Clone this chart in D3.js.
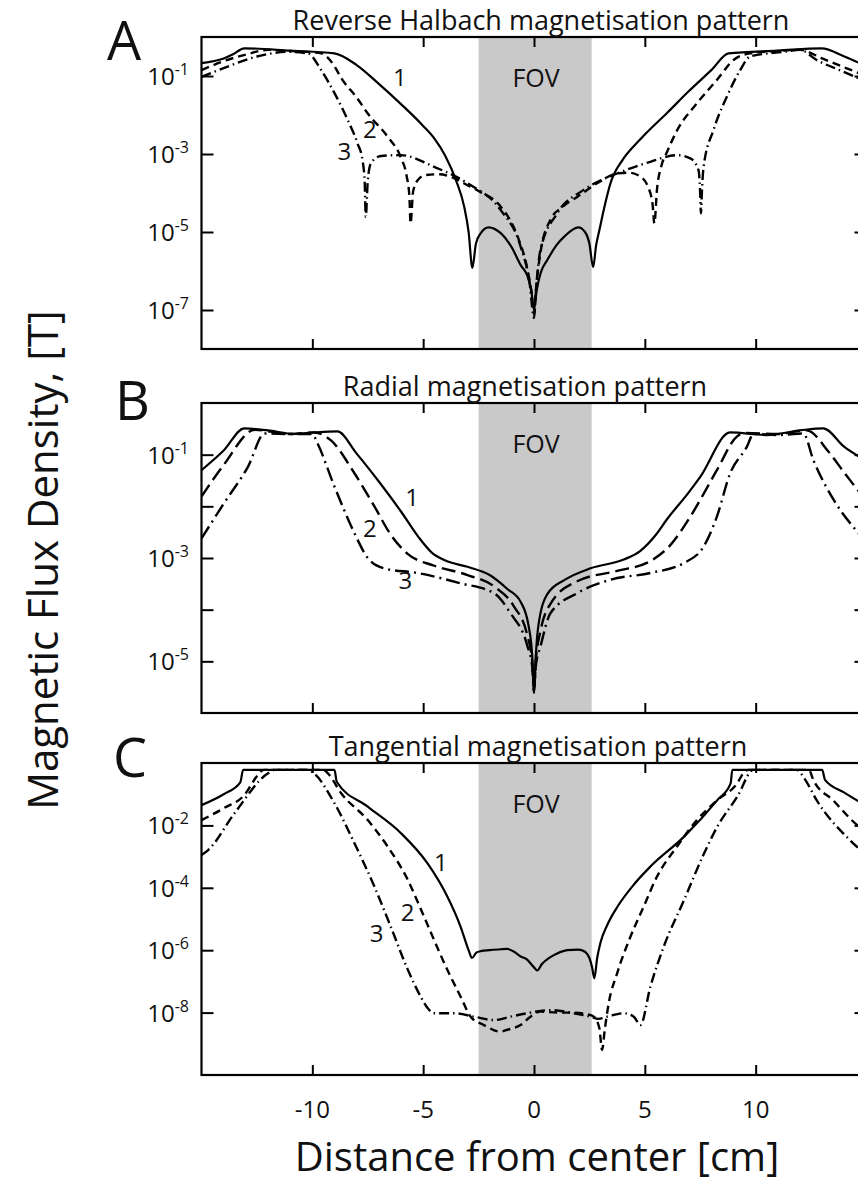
<!DOCTYPE html>
<html>
<head>
<meta charset="utf-8">
<script src="https://cdn.jsdelivr.net/npm/d3@7"></script>
<style>
  body { margin: 0; background: #fff; }
  svg { display: block; }
  text { font-family: "Open Sans", "Noto Sans", sans-serif; fill: #111; }
</style>
</head>
<body>
<script>
// ---- shared axis data ----
const xDomain = [-15, 15];
const xTicks = [-10, -5, 0, 5, 10];
const fovRange = [-2.5, 2.6];
const panelLetters = ["A", "B", "C"];
const panelTitles = [
  "Reverse Halbach magnetisation pattern",
  "Radial magnetisation pattern",
  "Tangential magnetisation pattern"
];
const yDomains = [[1e-8, 1], [1e-6, 1], [1e-10, 1]];
const yTickValues = [
  [1e-1, 1e-3, 1e-5, 1e-7],
  [1e-1, 1e-2, 1e-3, 1e-4, 1e-5],
  [1e-2, 1e-4, 1e-6, 1e-8]
];
const yTickLabels = [
  [-1, -3, -5, -7],
  [-1, -3, -5],
  [-2, -4, -6, -8]
];
const curveNames = ["1", "2", "3"];

// ---- series: [distance cm, log10(B / T)] ----
// A: reverse Halbach
const a1 = [[-15,-0.67],[-14,-0.55],[-13.6,-0.45],[-13.07,-0.29],[-11,-0.35],[-9.0,-0.42],[-8.0,-0.72],[-7.0,-1.2],[-6.0,-1.72],[-5.0,-2.28],[-4.5,-2.6],[-4.0,-3.05],[-3.5,-3.7],[-3.15,-4.35],[-2.95,-5.0],[-2.78,-5.92],[-2.62,-5.3],[-2.4,-5.03],[-2.05,-4.88],[-1.5,-5.03],[-1.0,-5.4],[-0.6,-5.85],[-0.3,-6.12],[-0.12,-6.5],[0,-7.0],[0.12,-6.5],[0.3,-6.05],[0.6,-5.72],[1.0,-5.35],[1.4,-5.1],[2.0,-4.88],[2.3,-5.0],[2.5,-5.3],[2.67,-5.9],[2.8,-5.35],[2.95,-4.95],[3.2,-4.3],[3.45,-3.75],[4.0,-3.15],[4.5,-2.8],[5.0,-2.5],[6.0,-1.95],[7.0,-1.38],[8.0,-0.85],[8.78,-0.42],[11,-0.35],[12.98,-0.29],[14,-0.5],[15,-0.75]];
const a2 = [[-15,-0.85],[-14,-0.62],[-13,-0.45],[-12,-0.33],[-11,-0.36],[-9.6,-0.42],[-9.0,-0.75],[-8.7,-1.05],[-8.0,-1.55],[-7.5,-1.96],[-6.6,-2.56],[-6.0,-3.1],[-5.75,-3.55],[-5.62,-4.1],[-5.57,-4.78],[-5.45,-3.95],[-5.2,-3.64],[-4.9,-3.54],[-4.3,-3.52],[-3.76,-3.58],[-3.0,-3.8],[-2.5,-3.95],[-1.5,-4.35],[-0.75,-5.1],[-0.3,-5.95],[-0.1,-6.6],[0,-7.1],[0.1,-6.4],[0.3,-5.5],[0.74,-4.69],[1.3,-4.35],[1.95,-4.1],[2.85,-3.75],[3.75,-3.5],[4.3,-3.48],[4.8,-3.58],[5.15,-3.85],[5.35,-4.3],[5.43,-4.78],[5.55,-3.9],[5.75,-3.3],[6.0,-2.95],[6.45,-2.4],[7.35,-1.7],[8.25,-1.1],[9.0,-0.59],[9.75,-0.42],[11,-0.36],[12,-0.33],[13,-0.55],[14,-0.78],[15,-1.0]];
const a3 = [[-15,-1.02],[-14,-0.8],[-12.5,-0.5],[-11.1,-0.38],[-10.2,-0.42],[-9.6,-0.85],[-9.0,-1.44],[-8.4,-2.13],[-7.96,-2.73],[-7.74,-3.15],[-7.64,-3.7],[-7.59,-4.61],[-7.5,-3.7],[-7.36,-3.24],[-6.9,-3.05],[-6.0,-3.03],[-4.5,-3.33],[-3.0,-3.75],[-1.5,-4.44],[-0.6,-5.38],[-0.2,-6.3],[0,-7.2],[0.1,-6.4],[0.29,-5.46],[1.05,-4.52],[2.24,-3.92],[3.75,-3.5],[5.25,-3.2],[6.45,-3.03],[7.05,-3.11],[7.42,-3.41],[7.49,-3.9],[7.53,-4.52],[7.58,-3.9],[7.65,-3.33],[8.1,-2.38],[8.7,-1.53],[9.3,-0.85],[9.75,-0.5],[11.25,-0.38],[12,-0.33],[12.75,-0.59],[14,-0.9],[15,-1.15]];

// B: radial
const b1 = [[-15,-1.3],[-14,-0.92],[-13.07,-0.49],[-12,-0.53],[-10.8,-0.6],[-9.9,-0.57],[-8.87,-0.55],[-8,-0.98],[-7,-1.52],[-6,-2.1],[-5.2,-2.6],[-4.6,-2.9],[-4.0,-3.05],[-3.0,-3.17],[-2.0,-3.33],[-1.2,-3.6],[-0.6,-3.85],[-0.25,-4.3],[-0.08,-4.9],[0,-5.6],[0.08,-4.9],[0.2,-4.3],[0.6,-3.7],[1.4,-3.42],[2.55,-3.2],[4.05,-3.03],[4.8,-2.86],[5.5,-2.55],[6.0,-2.25],[7.0,-1.72],[7.5,-1.43],[8.85,-0.57],[10.5,-0.62],[12,-0.53],[13.05,-0.49],[14,-0.85],[15,-1.12]];
const b2 = [[-15,-1.81],[-14,-1.2],[-12.6,-0.52],[-11,-0.6],[-9.9,-0.57],[-9.17,-0.72],[-8.1,-1.36],[-7.2,-2.0],[-6.46,-2.55],[-5.7,-2.92],[-4.5,-3.15],[-3.0,-3.33],[-1.8,-3.55],[-0.9,-3.94],[-0.3,-4.5],[-0.08,-5.0],[0,-5.6],[0.08,-5.0],[0.3,-4.4],[0.8,-3.85],[1.95,-3.45],[3.75,-3.25],[5.25,-3.06],[6.15,-2.75],[7.05,-2.2],[8.25,-1.3],[9.15,-0.65],[9.5,-0.58],[11,-0.6],[12.3,-0.53],[13.3,-0.95],[14,-1.35],[15,-1.9]];
const b3 = [[-15,-2.62],[-14,-1.95],[-12.9,-1.23],[-12.15,-0.59],[-11,-0.6],[-10.0,-0.6],[-9.77,-0.78],[-9.0,-1.62],[-8.1,-2.52],[-7.5,-3.0],[-6.77,-3.2],[-5.26,-3.29],[-3.31,-3.49],[-1.8,-3.68],[-1.06,-4.07],[-0.3,-4.7],[-0.08,-5.1],[0,-5.6],[0.08,-5.1],[0.3,-4.7],[0.74,-4.07],[1.95,-3.68],[3.45,-3.42],[5.25,-3.29],[6.75,-3.1],[7.65,-2.78],[8.25,-2.2],[8.85,-1.36],[9.6,-0.85],[9.9,-0.6],[11,-0.62],[12.15,-0.59],[12.6,-1.1],[13.66,-1.97],[14.6,-2.5],[15,-2.7]];

// C: tangential
const c1 = [[-15,-1.35],[-14,-1.0],[-13.25,-0.62],[-13.12,-0.22],[-9.0,-0.22],[-8.9,-0.6],[-7.5,-1.4],[-6.0,-2.25],[-4.81,-3.21],[-3.91,-4.28],[-3.31,-5.25],[-2.95,-6.0],[-2.8,-6.25],[-2.6,-6.08],[-2.4,-6.03],[-2.0,-6.0],[-1.5,-5.97],[-1.2,-5.96],[-0.9,-6.05],[-0.6,-6.2],[-0.35,-6.28],[0,-6.55],[0.15,-6.65],[0.35,-6.45],[0.74,-6.22],[1.0,-6.12],[1.5,-6.0],[2.0,-5.98],[2.3,-6.05],[2.5,-6.25],[2.62,-6.55],[2.72,-6.9],[2.85,-6.25],[3.0,-5.75],[3.3,-5.2],[3.77,-4.6],[4.5,-3.9],[5.25,-3.32],[6.77,-2.36],[8.27,-1.19],[8.87,-0.65],[8.95,-0.22],[13.0,-0.22],[13.13,-0.54],[14,-0.95],[15,-1.38]];
const c2 = [[-15,-1.83],[-14,-1.45],[-13.07,-1.03],[-12.45,-0.38],[-12.2,-0.22],[-9.5,-0.22],[-9.3,-0.33],[-8.7,-0.97],[-7.5,-1.83],[-6.6,-2.68],[-5.69,-3.75],[-5.09,-4.71],[-4.51,-5.67],[-3.91,-6.63],[-3.31,-7.49],[-2.86,-8.13],[-2.26,-8.4],[-1.51,-8.61],[-1.2,-8.55],[-0.61,-8.4],[-0.16,-8.13],[0.29,-7.97],[1.05,-8.0],[1.8,-8.0],[2.4,-8.05],[2.7,-8.13],[2.95,-8.5],[3.07,-9.2],[3.2,-8.5],[3.37,-7.7],[3.75,-6.74],[4.35,-5.57],[4.95,-4.6],[5.55,-3.64],[6.45,-2.68],[7.35,-1.83],[8.27,-1.19],[9.17,-0.65],[9.47,-0.3],[9.7,-0.22],[12.4,-0.22],[12.6,-0.54],[13.5,-1.2],[14.6,-2.0],[15,-2.2]];
const c3 = [[-15,-2.95],[-14.7,-2.79],[-13.5,-1.6],[-12.0,-0.33],[-11.7,-0.22],[-10.2,-0.22],[-9.9,-0.35],[-9.0,-1.29],[-8.1,-2.57],[-7.2,-3.96],[-6.46,-5.25],[-5.69,-6.63],[-5.11,-7.49],[-4.8,-7.85],[-4.51,-8.02],[-3.6,-8.02],[-2.7,-8.13],[-1.8,-8.24],[-1.06,-8.13],[-0.31,-8.02],[0.74,-7.92],[1.8,-8.02],[2.55,-8.13],[2.9,-8.2],[3.3,-8.13],[4.05,-8.02],[4.5,-8.13],[4.8,-8.4],[5.25,-7.17],[5.85,-5.89],[6.77,-4.39],[7.67,-2.9],[8.27,-2.04],[9.17,-1.08],[9.9,-0.22],[11.85,-0.22],[12.2,-0.5],[12.75,-1.19],[14.25,-2.47],[15,-2.95]];

const panelSeries = [[a1, a2, a3], [b1, b2, b3], [c1, c2, c3]];

// curve-number label anchors [distance, log10 value] per panel
const numberAnchors = [
  [[-6.05, -1.25], [-7.4, -2.6], [-8.55, -3.15]],
  [[-5.5, -2.0], [-7.4, -2.6], [-5.8, -3.6]],
  [[-4.2, -3.45], [-5.7, -5.05], [-7.1, -5.75]]
];

// ---- layout ----
const W = 858, H = 1184;
const plotLeft = 201.5, plotRight = 866.5;
const panelBox = [[37, 349], [403, 713], [763, 1075]];
const letterPos = [[107, 60], [115, 420], [113, 777]];
const titleX = [541, 525, 538];
const dashStyles = [
  ["none", "8,5", "10,4,1.5,4"],
  ["none", "14,6", "14,5,2,5"],
  ["none", "8,5", "10,4,1.5,4"]
];

const svg = d3.select("body").append("svg")
  .attr("width", W).attr("height", H);

const x = d3.scaleLinear().domain(xDomain).range([plotLeft, plotRight]);

panelSeries.forEach((series, i) => {
  const [top, bottom] = panelBox[i];
  const y = d3.scaleLog().domain(yDomains[i]).range([bottom, top]);
  const g = svg.append("g");

  const clipId = "clip" + i;
  svg.append("clipPath").attr("id", clipId)
    .append("rect")
    .attr("x", plotLeft).attr("y", top)
    .attr("width", plotRight - plotLeft).attr("height", bottom - top);

  // field-of-view band
  g.append("rect")
    .attr("x", x(fovRange[0])).attr("y", top)
    .attr("width", x(fovRange[1]) - x(fovRange[0]))
    .attr("height", bottom - top)
    .attr("fill", "#c9c9c9");

  g.append("text")
    .attr("x", (x(fovRange[0]) + x(fovRange[1])) / 2 + 1)
    .attr("y", top + 50)
    .attr("text-anchor", "middle")
    .attr("font-size", 25)
    .text("FOV");

  // curves
  const line = d3.line()
    .x(d => x(d[0]))
    .y(d => y(Math.pow(10, d[1])))
    .curve(d3.curveMonotoneX);

  series.forEach((s, k) => {
    g.append("path")
      .datum(s)
      .attr("clip-path", `url(#${clipId})`)
      .attr("d", line)
      .attr("fill", "none")
      .attr("stroke", "#000")
      .attr("stroke-width", k === 0 ? 2.2 : 2.4)
      .attr("stroke-linejoin", "round")
      .attr("stroke-dasharray", dashStyles[i][k]);
  });

  // curve numbers
  numberAnchors[i].forEach((a, k) => {
    g.append("text")
      .attr("x", x(a[0])).attr("y", y(Math.pow(10, a[1])))
      .attr("text-anchor", "middle")
      .attr("font-size", 24)
      .text(curveNames[k]);
  });

  // inward ticks on all four sides
  const styleAxis = sel => {
    sel.select(".domain").remove();
    sel.selectAll(".tick line").attr("stroke", "#000").attr("stroke-width", 2);
  };
  g.append("g").attr("transform", `translate(${plotLeft},0)`)
    .call(d3.axisLeft(y).tickValues(yTickValues[i]).tickSize(-12).tickFormat(""))
    .call(styleAxis);
  g.append("g").attr("transform", `translate(${plotRight},0)`)
    .call(d3.axisRight(y).tickValues(yTickValues[i]).tickSize(-12).tickFormat(""))
    .call(styleAxis);
  g.append("g").attr("transform", `translate(0,${top})`)
    .call(d3.axisTop(x).tickValues(xTicks).tickSize(-10).tickFormat(""))
    .call(styleAxis);
  g.append("g").attr("transform", `translate(0,${bottom})`)
    .call(d3.axisBottom(x).tickValues(xTicks).tickSize(-10).tickFormat(""))
    .call(styleAxis);

  // frame
  g.append("rect")
    .attr("x", plotLeft).attr("y", top)
    .attr("width", plotRight - plotLeft).attr("height", bottom - top)
    .attr("fill", "none").attr("stroke", "#000").attr("stroke-width", 2.2);

  // y tick labels as 10^n
  yTickLabels[i].forEach(e => {
    const t = g.append("text")
      .attr("x", 189).attr("y", y(Math.pow(10, e)) + 9)
      .attr("text-anchor", "end")
      .attr("font-size", 24);
    t.append("tspan").text("10");
    t.append("tspan").attr("dy", -10).attr("font-size", 16).text(String(e));
  });

  // panel title and letter
  g.append("text")
    .attr("x", titleX[i]).attr("y", top - 7)
    .attr("text-anchor", "middle")
    .attr("font-size", 27)
    .text(panelTitles[i]);
  g.append("text")
    .attr("x", letterPos[i][0]).attr("y", letterPos[i][1])
    .attr("font-family", "'Liberation Sans', Arial, sans-serif")
    .attr("font-size", 54)
    .text(panelLetters[i]);

  // x tick labels on the bottom panel only
  if (i === panelSeries.length - 1) {
    xTicks.forEach(v => {
      g.append("text")
        .attr("x", x(v)).attr("y", bottom + 43)
        .attr("text-anchor", "middle")
        .attr("font-size", 24)
        .text(String(v));
    });
  }
});

// axis titles
svg.append("text")
  .attr("x", 537).attr("y", 1171)
  .attr("text-anchor", "middle")
  .attr("font-size", 40)
  .text("Distance from center [cm]");

svg.append("text")
  .attr("transform", "translate(58,560) rotate(-90)")
  .attr("text-anchor", "middle")
  .attr("font-size", 42)
  .text("Magnetic Flux Density, [T]");
</script>
</body>
</html>
